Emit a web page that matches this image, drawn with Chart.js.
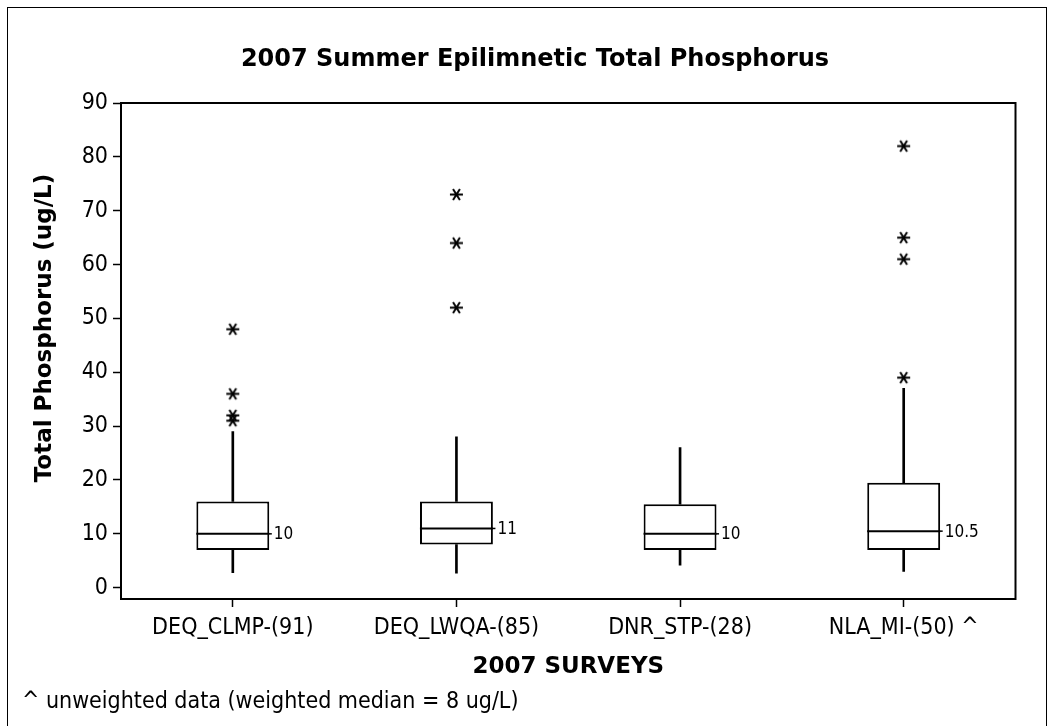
<!DOCTYPE html>
<html>
<head>
<meta charset="utf-8">
<title>2007 Summer Epilimnetic Total Phosphorus</title>
<script src="https://cdn.jsdelivr.net/npm/chart.js@4.4.1/dist/chart.umd.min.js"></script>
<style>
  html, body { margin: 0; padding: 0; background: #fff; }
  #wrap { position: relative; width: 1054px; height: 726px; overflow: hidden; }
  #outline { position: absolute; left: 7px; top: 7px; width: 1040px; height: 760px;
             border: 1.5px solid #000; box-sizing: border-box; pointer-events: none; }
  canvas { position: absolute; left: 0; top: 0; }
</style>
</head>
<body>
<div id="wrap">
  <canvas id="chart" width="1054" height="726"></canvas>
  <div id="outline"></div>
</div>
<script>
// Survey groups (sample size in brackets)
const surveys = ['DEQ_CLMP-(91)', 'DEQ_LWQA-(85)', 'DNR_STP-(28)', 'NLA_MI-(50) ^'];

// Five-number summaries, total phosphorus in ug/L
const whiskerLow  = [2.8, 2.7, 4.2, 3.0];
const quartile1   = [7, 8, 7, 7];
const medians     = [10, 11, 10, 10.5];
const quartile3   = [16, 16, 15.5, 19.5];
const whiskerHigh = [29, 28, 26, 37];

// Outlying lakes per survey
const outliersCLMP = [48, 36, 32, 31];
const outliersLWQA = [73, 64, 52];
const outliersDNR  = [];
const outliersNLA  = [82, 65, 61, 39];

// Value axis ticks
const yTicks = [0, 10, 20, 30, 40, 50, 60, 70, 80, 90];

const TEXT_FONT = '"DejaVu Sans Condensed", "DejaVu Sans", sans-serif';
const BOLD_FONT = '"DejaVu Sans", sans-serif';

// Asterisk marker for outliers
function makeAsterisk(size) {
  const c = document.createElement('canvas');
  c.width = size; c.height = size;
  const g = c.getContext('2d');
  const m = size / 2, r = size / 2 - 1;
  g.strokeStyle = '#000';
  g.lineWidth = 2;
  g.beginPath();
  g.moveTo(m - r, m); g.lineTo(m + r, m);
  const a = 58 * Math.PI / 180;
  g.moveTo(m - r * Math.cos(a), m - r * Math.sin(a)); g.lineTo(m + r * Math.cos(a), m + r * Math.sin(a));
  g.moveTo(m + r * Math.cos(a), m - r * Math.sin(a)); g.lineTo(m - r * Math.cos(a), m + r * Math.sin(a));
  g.stroke();
  return c;
}
const asterisk = makeAsterisk(15);

const outlierPoints = [];
[outliersCLMP, outliersLWQA, outliersDNR, outliersNLA].forEach((list, i) => {
  list.forEach(v => outlierPoints.push({ x: surveys[i], y: v }));
});

// Titles, plot frame, median labels and footnote
const extras = {
  id: 'extras',
  afterDatasetsDraw(chart) {
    const { ctx, chartArea: a } = chart;
    ctx.save();
    ctx.strokeStyle = '#000';
    ctx.lineWidth = 2;
    ctx.strokeRect(a.left, a.top, a.right - a.left, a.bottom - a.top);

    ctx.fillStyle = '#000';
    ctx.textBaseline = 'middle';

    // median values beside each box, joined by a short stub
    const meta = chart.getDatasetMeta(3);
    ctx.lineWidth = 1.5;
    ctx.font = '17px ' + TEXT_FONT;
    ctx.textAlign = 'left';
    meta.data.forEach((pt, i) => {
      ctx.beginPath();
      ctx.moveTo(pt.x + 36, pt.y);
      ctx.lineTo(pt.x + 39, pt.y);
      ctx.stroke();
      ctx.fillText(String(medians[i]), pt.x + 41, pt.y + 1);
    });

    // chart title
    ctx.font = 'bold 24px ' + BOLD_FONT;
    ctx.textAlign = 'center';
    ctx.fillText('2007 Summer Epilimnetic Total Phosphorus', 535, 60);

    // value axis title
    ctx.save();
    ctx.translate(45, 328);
    ctx.rotate(-Math.PI / 2);
    ctx.font = 'bold 23px ' + BOLD_FONT;
    ctx.fillText('Total Phosphorus (ug/L)', 0, 0);
    ctx.restore();

    // footnote
    ctx.font = '23px ' + TEXT_FONT;
    ctx.textAlign = 'left';
    ctx.fillText('^ unweighted data (weighted median = 8 ug/L)', 22, 702);
    ctx.restore();
  }
};

new Chart(document.getElementById('chart'), {
  type: 'bar',
  data: {
    labels: surveys,
    datasets: [
      {
        label: 'lower whisker',
        data: whiskerLow.map((v, i) => [v, quartile1[i]]),
        backgroundColor: '#000',
        barThickness: 2,
        grouped: false,
        order: 4
      },
      {
        label: 'upper whisker',
        data: quartile3.map((v, i) => [v, whiskerHigh[i]]),
        backgroundColor: '#000',
        barThickness: 2,
        grouped: false,
        order: 4
      },
      {
        label: 'interquartile box',
        data: quartile1.map((v, i) => [v, quartile3[i]]),
        backgroundColor: '#fff',
        borderColor: '#000',
        borderWidth: 2,
        borderSkipped: false,
        barPercentage: 0.326,
        categoryPercentage: 1,
        grouped: false,
        order: 3
      },
      {
        type: 'line',
        label: 'median',
        data: medians,
        showLine: false,
        pointStyle: 'line',
        pointRadius: 36.5,
        pointBorderWidth: 2,
        pointBorderColor: '#000',
        borderColor: '#000',
        order: 2
      },
      {
        type: 'line',
        label: 'outliers',
        data: outlierPoints,
        showLine: false,
        pointStyle: asterisk,
        pointRadius: 7,
        order: 1
      }
    ]
  },
  options: {
    responsive: false,
    animation: false,
    events: [],
    layout: { padding: { left: 0, right: 38, top: 103, bottom: 0 } },
    plugins: {
      legend: { display: false },
      tooltip: { enabled: false },
      title: { display: false }
    },
    scales: {
      x: {
        type: 'category',
        offset: true,
        border: { display: false },
        grid: { display: true, drawOnChartArea: false, offset: false,
                tickLength: 8, tickColor: '#000', tickWidth: 1.5 },
        ticks: { color: '#000', padding: 7, font: { family: TEXT_FONT, size: 23 } },
        title: {
          display: true,
          text: '2007 SURVEYS',
          color: '#000',
          font: { family: BOLD_FONT, size: 23, weight: 'bold', lineHeight: 1.2 },
          padding: { top: 0, bottom: 45 }
        },
        afterFit(scale) { scale.height = 127; }
      },
      y: {
        type: 'linear',
        min: -2.1,
        max: 90,
        border: { display: false },
        grid: { display: true, drawOnChartArea: false,
                tickLength: 8, tickColor: '#000', tickWidth: 1.5 },
        ticks: { color: '#000', padding: 5, font: { family: TEXT_FONT, size: 23 } },
        afterBuildTicks(scale) { scale.ticks = yTicks.map(v => ({ value: v })); },
        afterFit(scale) { scale.width = 121; }
      }
    }
  },
  plugins: [extras]
});
</script>
</body>
</html>
